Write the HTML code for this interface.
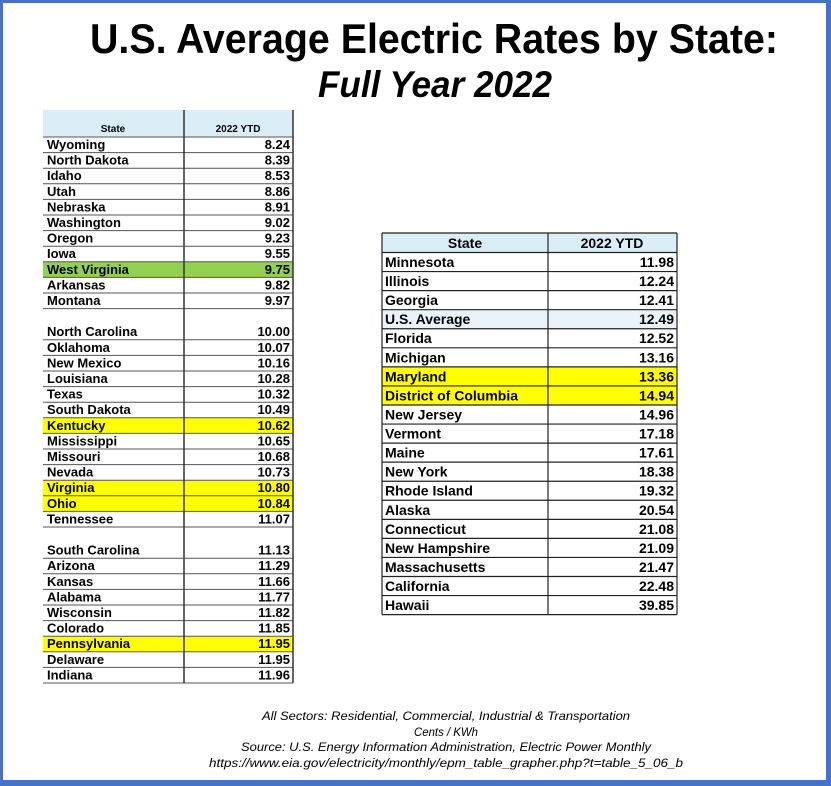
<!DOCTYPE html>
<html><head><meta charset="utf-8"><style>
html,body{margin:0;padding:0;background:#fff;width:831px;height:786px;overflow:hidden}
svg{display:block}
.l{font:bold 13px "Liberation Sans",Arial,sans-serif;fill:#000}
.r{font:bold 14px "Liberation Sans",Arial,sans-serif;fill:#000}
.f{font:italic 12px "Liberation Sans",Arial,sans-serif;fill:#000}
</style></head><body>
<svg width="831" height="786" viewBox="0 0 831 786" xmlns="http://www.w3.org/2000/svg">
<rect x="0" y="0" width="831" height="786" fill="#fff"/>
<rect x="0" y="0" width="831" height="3" fill="#4472c4"/>
<rect x="0" y="0" width="3" height="786" fill="#4472c4"/>
<rect x="826" y="0" width="5" height="786" fill="#4472c4"/>
<rect x="0" y="780" width="831" height="6" fill="#4472c4"/>
<text x="434" y="53" text-anchor="middle" textLength="688" lengthAdjust="spacingAndGlyphs" style="font:bold 42px 'Liberation Sans',Arial,sans-serif">U.S. Average Electric Rates by State:</text>
<text x="435" y="97" text-anchor="middle" textLength="234" lengthAdjust="spacingAndGlyphs" style="font:italic bold 37px 'Liberation Sans',Arial,sans-serif">Full Year 2022</text>

<!-- LEFT TABLE -->
<rect x="43" y="110" width="250" height="27" fill="#dbeef8"/>
<rect x="43" y="261.8" width="250" height="15.6" fill="#92d050"/>
<rect x="43" y="417.8" width="250" height="15.6" fill="#ffff00"/>
<rect x="43" y="480.2" width="250" height="31.2" fill="#ffff00"/>
<rect x="43" y="636.2" width="250" height="15.6" fill="#ffff00"/>
<text class="l" x="113" y="132" text-anchor="middle" style="font-size:10px">State</text>
<text class="l" x="238" y="132" text-anchor="middle" style="font-size:10px">2022 YTD</text>
<path d="M43 137H293M43 152.6H293M43 168.2H293M43 183.8H293M43 199.4H293M43 215H293M43 230.6H293M43 246.2H293M43 261.8H293M43 277.4H293M43 293H293M43 308.6H293M43 339.8H293M43 355.4H293M43 371H293M43 386.6H293M43 402.2H293M43 417.8H293M43 433.4H293M43 449H293M43 464.6H293M43 480.2H293M43 495.8H293M43 511.4H293M43 527H293M43 558.2H293M43 573.8H293M43 589.4H293M43 605H293M43 620.6H293M43 636.2H293M43 651.8H293M43 667.4H293M43 683H293" stroke="#555" stroke-width="1" fill="none"/>
<path d="M184 110V683M293 110V683" stroke="#333" stroke-width="1.5" fill="none"/>
<g class="l">
<text x="47" y="149">Wyoming</text><text x="290" y="149" text-anchor="end">8.24</text>
<text x="47" y="164.6">North Dakota</text><text x="290" y="164.6" text-anchor="end">8.39</text>
<text x="47" y="180.2">Idaho</text><text x="290" y="180.2" text-anchor="end">8.53</text>
<text x="47" y="195.8">Utah</text><text x="290" y="195.8" text-anchor="end">8.86</text>
<text x="47" y="211.4">Nebraska</text><text x="290" y="211.4" text-anchor="end">8.91</text>
<text x="47" y="227">Washington</text><text x="290" y="227" text-anchor="end">9.02</text>
<text x="47" y="242.6">Oregon</text><text x="290" y="242.6" text-anchor="end">9.23</text>
<text x="47" y="258.2">Iowa</text><text x="290" y="258.2" text-anchor="end">9.55</text>
<text x="47" y="273.8">West Virginia</text><text x="290" y="273.8" text-anchor="end">9.75</text>
<text x="47" y="289.4">Arkansas</text><text x="290" y="289.4" text-anchor="end">9.82</text>
<text x="47" y="305">Montana</text><text x="290" y="305" text-anchor="end">9.97</text>
<text x="47" y="336.2">North Carolina</text><text x="290" y="336.2" text-anchor="end">10.00</text>
<text x="47" y="351.8">Oklahoma</text><text x="290" y="351.8" text-anchor="end">10.07</text>
<text x="47" y="367.4">New Mexico</text><text x="290" y="367.4" text-anchor="end">10.16</text>
<text x="47" y="383">Louisiana</text><text x="290" y="383" text-anchor="end">10.28</text>
<text x="47" y="398.6">Texas</text><text x="290" y="398.6" text-anchor="end">10.32</text>
<text x="47" y="414.2">South Dakota</text><text x="290" y="414.2" text-anchor="end">10.49</text>
<text x="47" y="429.8">Kentucky</text><text x="290" y="429.8" text-anchor="end">10.62</text>
<text x="47" y="445.4">Mississippi</text><text x="290" y="445.4" text-anchor="end">10.65</text>
<text x="47" y="461">Missouri</text><text x="290" y="461" text-anchor="end">10.68</text>
<text x="47" y="476.6">Nevada</text><text x="290" y="476.6" text-anchor="end">10.73</text>
<text x="47" y="492.2">Virginia</text><text x="290" y="492.2" text-anchor="end">10.80</text>
<text x="47" y="507.8">Ohio</text><text x="290" y="507.8" text-anchor="end">10.84</text>
<text x="47" y="523.4">Tennessee</text><text x="290" y="523.4" text-anchor="end">11.07</text>
<text x="47" y="554.6">South Carolina</text><text x="290" y="554.6" text-anchor="end">11.13</text>
<text x="47" y="570.2">Arizona</text><text x="290" y="570.2" text-anchor="end">11.29</text>
<text x="47" y="585.8">Kansas</text><text x="290" y="585.8" text-anchor="end">11.66</text>
<text x="47" y="601.4">Alabama</text><text x="290" y="601.4" text-anchor="end">11.77</text>
<text x="47" y="617">Wisconsin</text><text x="290" y="617" text-anchor="end">11.82</text>
<text x="47" y="632.6">Colorado</text><text x="290" y="632.6" text-anchor="end">11.85</text>
<text x="47" y="648.2">Pennsylvania</text><text x="290" y="648.2" text-anchor="end">11.95</text>
<text x="47" y="663.8">Delaware</text><text x="290" y="663.8" text-anchor="end">11.95</text>
<text x="47" y="679.4">Indiana</text><text x="290" y="679.4" text-anchor="end">11.96</text>
</g>

<!-- RIGHT TABLE -->
<rect x="382" y="233" width="295" height="19.5" fill="#dbeef8"/>
<rect x="382" y="309.68" width="295" height="19.06" fill="#eaf3fa"/>
<rect x="382" y="366.86" width="295" height="38.12" fill="#ffff00"/>
<text class="r" x="465" y="248" text-anchor="middle">State</text>
<text class="r" x="612" y="248" text-anchor="middle">2022 YTD</text>
<path d="M382 233H677M382 252.5H677M382 271.56H677M382 290.62H677M382 309.68H677M382 328.74H677M382 347.8H677M382 366.86H677M382 385.92H677M382 404.98H677M382 424.04H677M382 443.1H677M382 462.16H677M382 481.22H677M382 500.28H677M382 519.34H677M382 538.4H677M382 557.46H677M382 576.52H677M382 595.58H677M382 614.64H677M382 233V614.64M548 233V614.64M677 233V614.64" stroke="#222" stroke-width="1.2" fill="none"/>
<g class="r">
<text x="385" y="267">Minnesota</text><text x="674" y="267" text-anchor="end">11.98</text>
<text x="385" y="286.1">Illinois</text><text x="674" y="286.1" text-anchor="end">12.24</text>
<text x="385" y="305.1">Georgia</text><text x="674" y="305.1" text-anchor="end">12.41</text>
<text x="385" y="324.2">U.S. Average</text><text x="674" y="324.2" text-anchor="end">12.49</text>
<text x="385" y="343.2">Florida</text><text x="674" y="343.2" text-anchor="end">12.52</text>
<text x="385" y="362.3">Michigan</text><text x="674" y="362.3" text-anchor="end">13.16</text>
<text x="385" y="381.4">Maryland</text><text x="674" y="381.4" text-anchor="end">13.36</text>
<text x="385" y="400.4">District of Columbia</text><text x="674" y="400.4" text-anchor="end">14.94</text>
<text x="385" y="419.5">New Jersey</text><text x="674" y="419.5" text-anchor="end">14.96</text>
<text x="385" y="438.5">Vermont</text><text x="674" y="438.5" text-anchor="end">17.18</text>
<text x="385" y="457.6">Maine</text><text x="674" y="457.6" text-anchor="end">17.61</text>
<text x="385" y="476.7">New York</text><text x="674" y="476.7" text-anchor="end">18.38</text>
<text x="385" y="495.7">Rhode Island</text><text x="674" y="495.7" text-anchor="end">19.32</text>
<text x="385" y="514.8">Alaska</text><text x="674" y="514.8" text-anchor="end">20.54</text>
<text x="385" y="533.8">Connecticut</text><text x="674" y="533.8" text-anchor="end">21.08</text>
<text x="385" y="552.9">New Hampshire</text><text x="674" y="552.9" text-anchor="end">21.09</text>
<text x="385" y="572">Massachusetts</text><text x="674" y="572" text-anchor="end">21.47</text>
<text x="385" y="591">California</text><text x="674" y="591" text-anchor="end">22.48</text>
<text x="385" y="610.1">Hawaii</text><text x="674" y="610.1" text-anchor="end">39.85</text>
</g>

<!-- FOOTER -->
<g class="f" text-anchor="middle">
<text x="446" y="720" textLength="368" lengthAdjust="spacingAndGlyphs">All Sectors: Residential, Commercial, Industrial &amp; Transportation</text>
<text x="446" y="736" textLength="64" lengthAdjust="spacingAndGlyphs">Cents / KWh</text>
<text x="446" y="751" textLength="410" lengthAdjust="spacingAndGlyphs">Source:  U.S. Energy Information Administration, Electric Power Monthly</text>
<text x="446" y="767" textLength="474" lengthAdjust="spacingAndGlyphs">https://www.eia.gov/electricity/monthly/epm_table_grapher.php?t=table_5_06_b</text>
</g>
</svg>
</body></html>
